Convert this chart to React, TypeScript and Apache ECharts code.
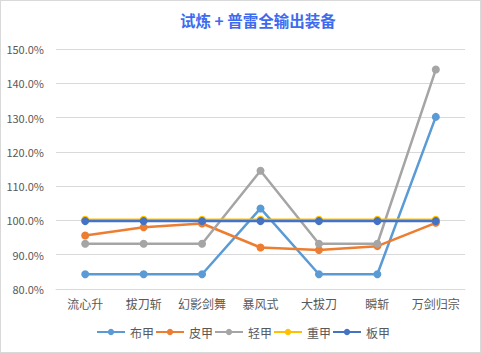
import React, { useEffect, useRef } from "react";
import * as echarts from "echarts";

const categories = ["流心升", "拔刀斩", "幻影剑舞", "暴风式", "大拔刀", "瞬斩", "万剑归宗"];
const seriesNames = ["布甲", "皮甲", "轻甲", "重甲", "板甲"];
const buJia = [84.3, 84.3, 84.3, 103.5, 84.3, 84.3, 130.2];
const piJia = [95.6, 98.0, 99.1, 92.1, 91.4, 92.5, 99.3];
const qingJia = [93.2, 93.2, 93.2, 114.5, 93.2, 93.2, 144.0];
const zhongJia = [100.2, 100.2, 100.2, 100.2, 100.2, 100.2, 100.2];
const banJia = [99.8, 99.8, 99.8, 99.8, 99.8, 99.8, 99.8];
const colors = ["#5B9BD5", "#ED7D31", "#A5A5A5", "#FFC000", "#4472C4"];
const yMin = 80;
const yMax = 150;
const yStep = 10;

export default function App() {
  const ref = useRef<HTMLDivElement>(null);
  useEffect(() => {
    if (!ref.current) return;
    const chart = echarts.init(ref.current, undefined, { renderer: "svg" });
    const font = "'Noto Sans CJK SC', 'Microsoft YaHei', sans-serif";
    const data = [buJia, piJia, qingJia, zhongJia, banJia];
    chart.setOption({
      animation: false,
      backgroundColor: "#ffffff",
      color: colors,
      title: {
        text: "试炼 + 普雷全输出装备",
        left: 174,
        top: 6,
        textStyle: { color: "#3D6BF0", fontSize: 15.5, fontWeight: "bold", fontFamily: font },
      },
      grid: { left: 55, right: 15, top: 48, bottom: 63 },
      legend: {
        bottom: 9,
        left: 90,
        itemWidth: 28,
        itemHeight: 8,
        itemGap: 1,
        textStyle: { color: "#595959", fontSize: 12, fontFamily: font },
        data: seriesNames,
      },
      xAxis: {
        type: "category",
        data: categories,
        boundaryGap: true,
        axisLine: { show: true, lineStyle: { color: "#d9d9d9" } },
        axisTick: { show: false },
        axisLabel: { color: "#595959", fontSize: 12, fontFamily: font, margin: 8, interval: 0 },
      },
      yAxis: {
        type: "value",
        min: yMin,
        max: yMax,
        interval: yStep,
        axisLine: { show: false },
        axisTick: { show: false },
        splitLine: { lineStyle: { color: "#d9d9d9" } },
        axisLabel: {
          color: "#595959",
          fontSize: 11,
          fontFamily: font,
          margin: 12,
          formatter: (v: number) => v.toFixed(1) + "%",
        },
      },
      series: seriesNames.map((name, i) => ({
        name,
        type: "line",
        data: data[i],
        symbol: "circle",
        symbolSize: 8,
        lineStyle: { width: 2.5, color: colors[i] },
        itemStyle: { color: colors[i] },
        z: 2 + i,
      })),
    });
    return () => chart.dispose();
  }, []);
  return (
    <div
      ref={ref}
      style={{
        position: "fixed",
        left: 0,
        top: 0,
        width: 481,
        height: 353,
        boxSizing: "border-box",
        border: "1px solid #d9d9d9",
      }}
    />
  );
}
